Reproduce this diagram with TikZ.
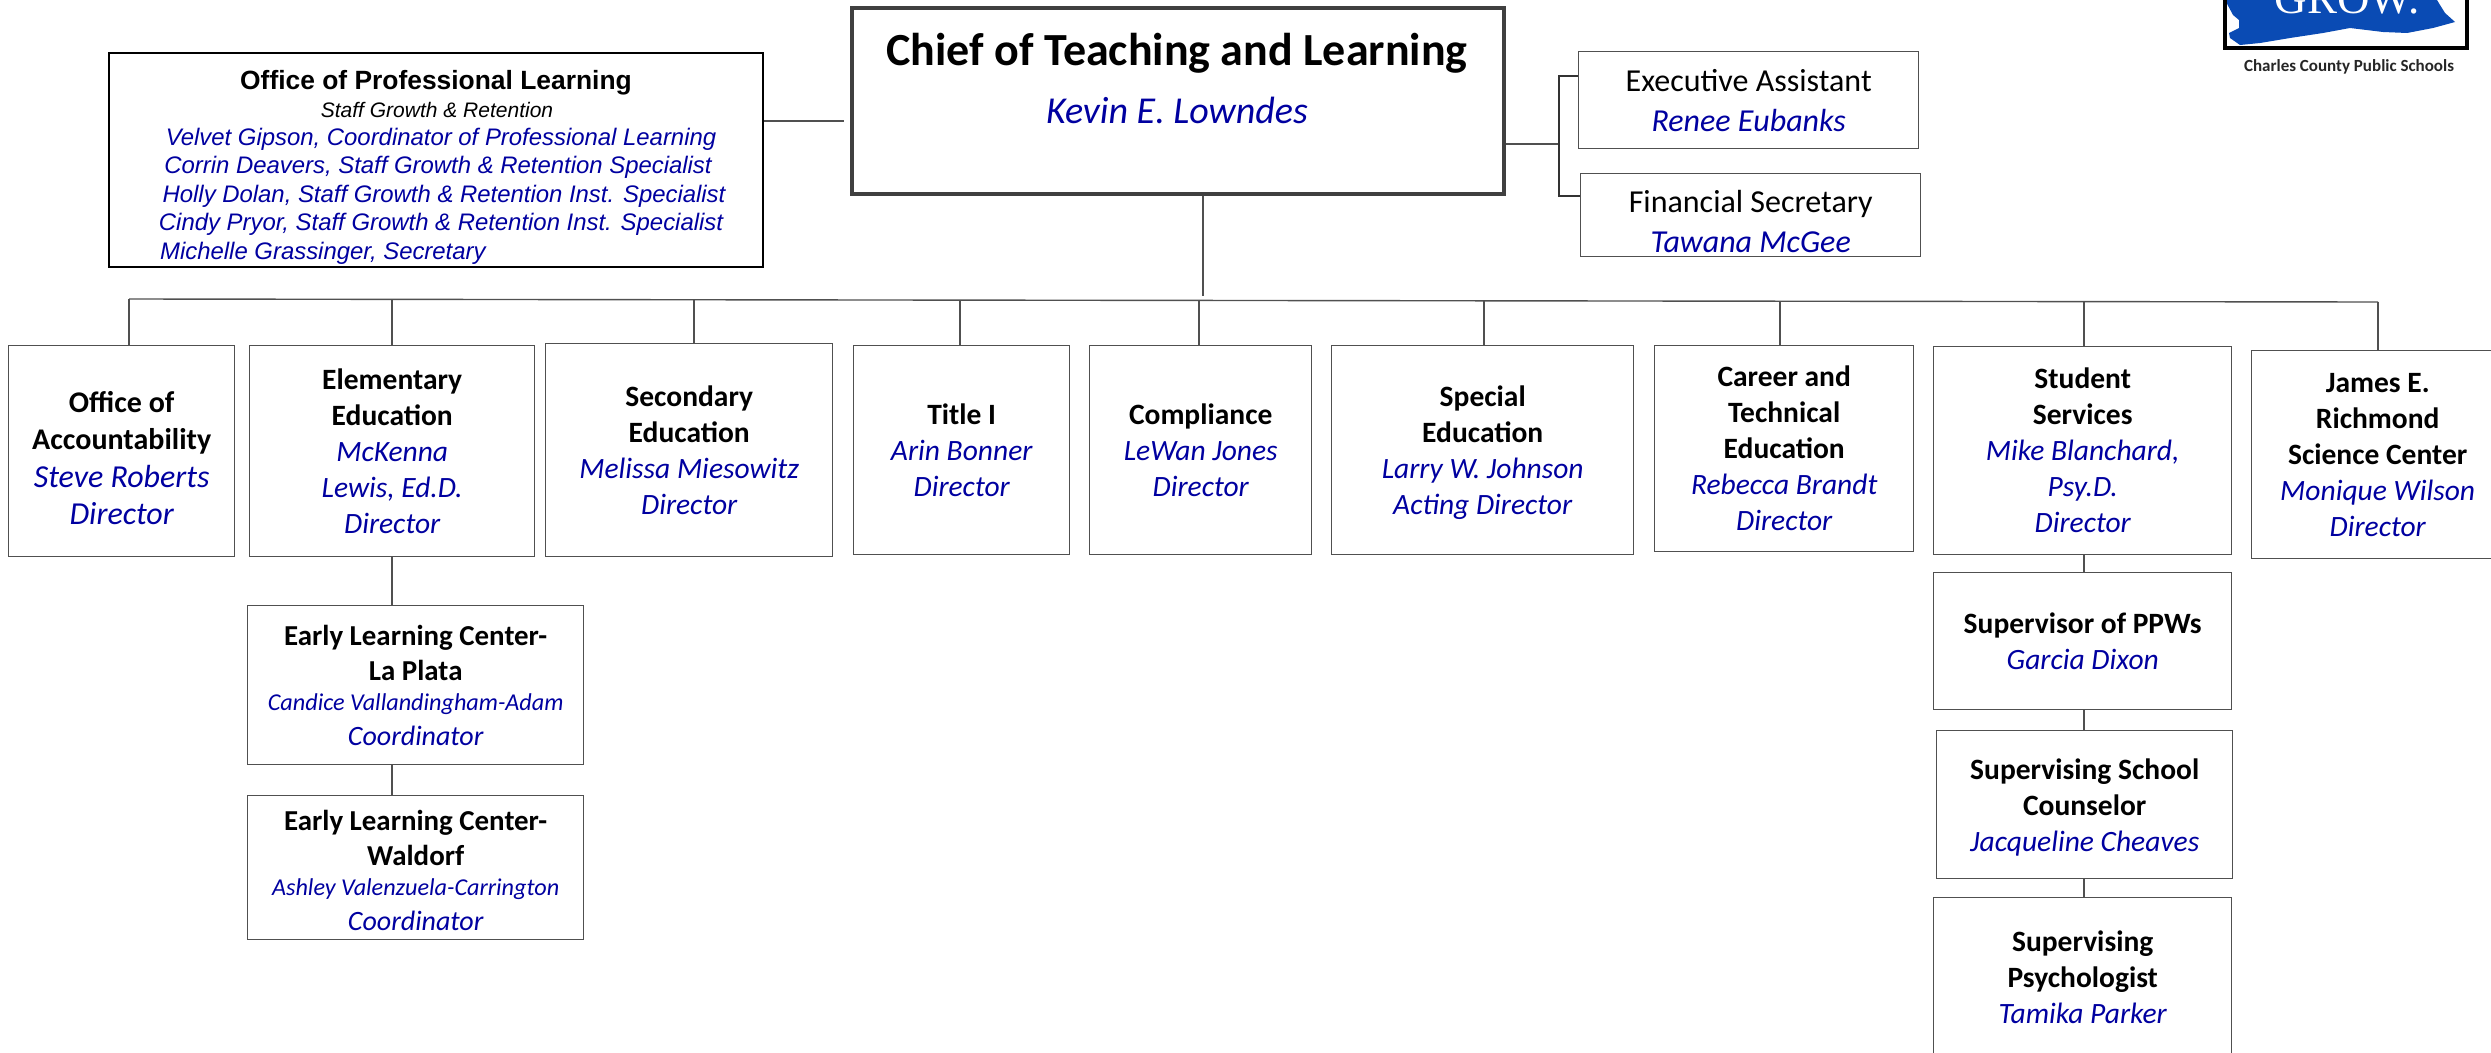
\documentclass[tikz,border=0pt]{standalone}
\usepackage{fontspec}
\setmainfont{Carlito}
\newfontfamily\arialfont{Liberation Sans}
\newfontfamily\logofont{Liberation Serif}
\definecolor{namecol}{RGB}{0,0,160}
\definecolor{linecol}{RGB}{80,80,80}
\definecolor{logoblue}{RGB}{10,75,180}
\newcommand{\who}[1]{{\color{namecol}\itshape #1}}
\newcommand{\toppad}[1]{\rule{0pt}{#1pt}}
\begin{document}
\begin{tikzpicture}[
        x=1pt, y=-1pt,
        every node/.style={inner sep=0pt, align=center},
        orgbox/.style={draw=linecol, line width=1.4pt, fill=white, anchor=north west, font=\fontsize{29.5}{36}\selectfont},
        proflname/.style={font=\arialfont\fontsize{23.9}{28}\selectfont},
        link/.style={draw=linecol, line width=1.4pt},
        bracket/.style={draw=black!80, line width=2pt}
    ]
    \useasboundingbox (0,0) rectangle (2491,1052);

    % Logo
    \fill[logoblue] (2225,0) -- (2233,15) -- (2239,20) -- (2239,28) -- (2229,33) -- (2230,38) -- (2240,45) -- (2260,43) -- (2290,38) -- (2323,33) -- (2350,28) -- (2383,32) -- (2407,33) -- (2433,28) -- (2455,22) -- (2445,13) -- (2440,5) -- (2437,0) -- cycle;
    \draw[black, line width=4pt] (2225,0) -- (2225,48) -- (2467,48) -- (2467,0);
    \node[white, font=\logofont\fontsize{45}{45}\selectfont, anchor=base] (growtext) at (2347,13) {GROW.};
    \node[font=\bfseries\fontsize{17}{20}\selectfont, text=black!85] (district) at (2349,67) {Charles County Public Schools};

    % Top row
    \node[orgbox, draw=black!75, line width=4pt, minimum width=652pt, minimum height=186pt] (chief) at (849.5,5.5) {};
    \node[font=\bfseries\fontsize{46}{52}\selectfont] (chieftitle) at (1177,53) {Chief of Teaching and Learning};
    \node[font=\fontsize{38}{45}\selectfont] (chiefname) at (1177,110) {\who{Kevin E. Lowndes}};

    \node[orgbox, draw=black, line width=2.4pt, minimum width=654pt, minimum height=214pt] (profl) at (108,52) {};
    \node[font=\arialfont\bfseries\fontsize{26.4}{32}\selectfont] (profltitle) at (436,83) {Office of Professional Learning};
    \node[font=\arialfont\itshape\fontsize{21}{26}\selectfont] (proflsub) at (437,110) {Staff Growth \& Retention};
    \node[proflname] (profl1) at (441,139) {\who{Velvet Gipson, Coordinator of Professional Learning}};
    \node[proflname] (profl2) at (438,167) {\who{Corrin Deavers, Staff Growth \& Retention Specialist}};
    \node[proflname] (profl3) at (444,196) {\who{Holly Dolan, Staff Growth \& Retention Inst. Specialist}};
    \node[proflname] (profl4) at (441,224) {\who{Cindy Pryor, Staff Growth \& Retention Inst. Specialist}};
    \node[proflname, anchor=west] (profl5) at (160,253) {\who{Michelle Grassinger, Secretary}};

    \node[orgbox, minimum width=340pt, minimum height=97pt, font=\fontsize{32}{40}\selectfont] (execas) at (1578,51) {Executive Assistant\\\who{Renee Eubanks}};
    \node[orgbox, minimum width=340pt, minimum height=83pt, font=\fontsize{32}{40}\selectfont] (finsec) at (1580,173) {\toppad{35}Financial Secretary\\\who{Tawana McGee}};

    % Directors
    \node[orgbox, minimum width=226pt, minimum height=211pt, font=\fontsize{30}{37}\selectfont] (acct) at (8,345) {\toppad{34}\textbf{Office of}\\\textbf{Accountability}\\[1pt]\fontsize{32}{38}\selectfont\who{Steve Roberts}\\\fontsize{32}{38}\selectfont\who{Director}};
    \node[orgbox, minimum width=285pt, minimum height=211pt] (elem) at (249,345) {\textbf{Elementary}\\\textbf{Education}\\\who{McKenna}\\\who{Lewis, Ed.D.}\\\who{Director}};
    \node[orgbox, minimum width=287pt, minimum height=213pt] (second) at (545,343) {\textbf{Secondary}\\\textbf{Education}\\\who{Melissa Miesowitz}\\\who{Director}};
    \node[orgbox, minimum width=216pt, minimum height=209pt] (titleone) at (853,345) {\textbf{Title I}\\\who{Arin Bonner}\\\who{Director}};
    \node[orgbox, minimum width=222pt, minimum height=209pt] (compl) at (1089,345) {\textbf{Compliance}\\\who{LeWan Jones}\\\who{Director}};
    \node[orgbox, minimum width=302pt, minimum height=209pt] (special) at (1331,345) {\toppad{25}\textbf{Special}\\\textbf{Education}\\\who{Larry W. Johnson}\\\who{Acting Director}};
    \node[orgbox, minimum width=259pt, minimum height=206pt] (career) at (1654,345) {\textbf{Career and}\\\textbf{Technical}\\\textbf{Education}\\\who{Rebecca Brandt}\\\who{Director}};
    \node[orgbox, minimum width=298pt, minimum height=208pt] (student) at (1933,346) {\textbf{Student}\\\textbf{Services}\\\who{Mike Blanchard,}\\\who{Psy.D.}\\\who{Director}};
    \node[orgbox, minimum width=252pt, minimum height=208pt] (james) at (2251,350) {\textbf{James E.}\\\textbf{Richmond}\\\textbf{Science Center}\\\who{Monique Wilson}\\\who{Director}};

    % Under Elementary
    \node[orgbox, minimum width=336pt, minimum height=159pt, font=\fontsize{28.9}{35}\selectfont] (elcone) at (247,605) {\textbf{Early Learning Center-}\\\textbf{La Plata}\\[-5pt]\fontsize{24.2}{30}\selectfont\who{Candice Vallandingham-Adam}\\\fontsize{28}{34}\selectfont\who{Coordinator}};
    \node[orgbox, minimum width=336pt, minimum height=144pt, font=\fontsize{28.9}{35}\selectfont] (elctwo) at (247,795) {\toppad{26}\textbf{Early Learning Center-}\\\textbf{Waldorf}\\[-5pt]\fontsize{24.2}{30}\selectfont\who{Ashley Valenzuela-Carrington}\\\fontsize{28}{34}\selectfont\who{Coordinator}};

    % Under Student Services
    \node[orgbox, minimum width=298pt, minimum height=137pt] (ppw) at (1933,572) {\textbf{Supervisor of PPWs}\\\who{Garcia Dixon}};
    \node[orgbox, minimum width=296pt, minimum height=148pt] (couns) at (1936,730) {\toppad{27}\textbf{Supervising School}\\\textbf{Counselor}\\\who{Jacqueline Cheaves}};
    \node[orgbox, minimum width=298pt, minimum height=160pt] (psych) at (1933,897) {\textbf{Supervising}\\\textbf{Psychologist}\\\who{Tamika Parker}};

    % Links at the top
    \draw[link, shorten >=6pt] (profl.east |- 0,121) -- (chief.west |- 0,121);
    \coordinate (fork) at (1559,144);
    \draw[link] (chief.east |- fork) -- (fork);
    \draw[bracket] (execas.west |- 0,76) -| (fork |- 0,196) -- (finsec.west |- 0,196);

    % Bus
    \coordinate (busleft) at (129,299);
    \coordinate (busright) at (2378,302);
    \draw[link] (busleft) -- (busright);
    \draw[link] (chief.south -| 1203,0) -- (1203,296);

    % Drops
    \foreach \target/\xbus/\ybus in {acct/129/299, elem/392/299, second/694/299, titleone/960/300, compl/1199/300, special/1484/301, career/1780/301, student/2084/302, james/2378/302} {
        \coordinate (drop) at (\xbus,\ybus);
        \draw[link] (drop) -- (drop |- \target.north);
    }

    % Chains
    \coordinate (elemx) at (392,0);
    \draw[link] (elemx |- elem.south) -- (elemx |- elcone.north);
    \draw[link] (elemx |- elcone.south) -- (elemx |- elctwo.north);
    \coordinate (studx) at (2084,0);
    \draw[link] (studx |- student.south) -- (studx |- ppw.north);
    \draw[link] (studx |- ppw.south) -- (studx |- couns.north);
    \draw[link] (studx |- couns.south) -- (studx |- psych.north);
\end{tikzpicture}
\end{document}
